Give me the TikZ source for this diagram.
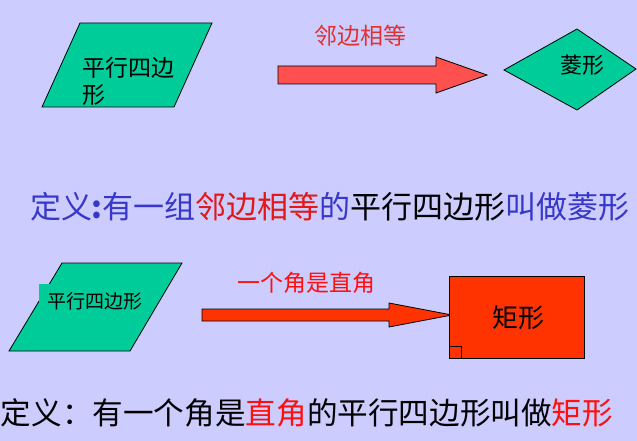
\documentclass[tikz,border=0pt]{standalone}
\usepackage{fontspec}
\setmainfont{Noto Sans CJK SC}
\definecolor{bg}{HTML}{CCCCFF}
\definecolor{shapegreen}{HTML}{00CC99}
\definecolor{arrowpink}{HTML}{FF5050}
\definecolor{arrowred}{HTML}{FF3300}
\definecolor{labelred}{HTML}{E03030}
\definecolor{defblue}{HTML}{3838C8}
\definecolor{defred}{HTML}{E01818}
\definecolor{brightred}{HTML}{FF1010}
\begin{document}
\begin{tikzpicture}[x=1pt,y=-1pt,
  outline/.style={draw=black,line width=0.8pt,line join=miter},
  txt/.style={inner sep=0pt,outer sep=0pt}]
\fill[bg] (0,0) rectangle (637,441);
\useasboundingbox (0,0) rectangle (637,441);
% ---- top row ----
\coordinate (p1a) at (80,23);
\coordinate (p1b) at (212,23);
\coordinate (p1c) at (174,107);
\coordinate (p1d) at (42,107);
\fill[shapegreen] (p1a)--(p1b)--(p1c)--(p1d)--cycle;
\draw[outline] (p1a)--(p1b)--(p1c)--(p1d)--cycle;
\node[txt,anchor=west,font=\fontsize{23}{23}\selectfont] (p1t1) at (82,68) {平行四边};
\node[txt,anchor=west,font=\fontsize{23}{23}\selectfont] (p1t2) at (82,95) {形};
% arrow 1
\fill[arrowpink] (278,66)--(436,66)--(436,57)--(487,75)--(436,93)--(436,84)--(278,84)--cycle;
\draw[outline] (278,66)--(436,66)--(436,57)--(487,75)--(436,93)--(436,84)--(278,84)--cycle;
\node[txt,text=labelred,font=\fontsize{23}{23}\selectfont] (lab1) at (360,36) {邻边相等};
% diamond
\coordinate (dl) at (504,70);
\coordinate (dt) at (577,29);
\coordinate (dr) at (636,69);
\coordinate (db) at (577,110);
\fill[shapegreen] (dl)--(dt)--(dr)--(db)--cycle;
\draw[outline] (dl)--(dt)--(dr)--(db)--cycle;
\node[txt,font=\fontsize{22}{22}\selectfont] (dtext) at (582,65) {菱形};
% definition 1
\node[txt,anchor=west,font=\fontsize{31}{31}\selectfont] (def1) at (30,207)
  {\textcolor{defblue}{定义\textbf{:}有一组}\textcolor{defred}{邻边相等}\textcolor{defblue}{的}\textcolor{black}{平行四边形}\textcolor{defblue}{叫做菱形}};
% ---- bottom row ----
\coordinate (p2a) at (62,263);
\coordinate (p2b) at (182,263);
\coordinate (p2c) at (130,351);
\coordinate (p2d) at (9,351);
\fill[shapegreen] (p2a)--(p2b)--(p2c)--(p2d)--cycle;
\draw[outline] (p2a)--(p2b)--(p2c)--(p2d)--cycle;
\fill[shapegreen] (39,284) rectangle (145,318);
\node[txt,font=\fontsize{19}{19}\selectfont] (p2t) at (95,301) {平行四边形};
% arrow 2
\fill[arrowred] (202,309)--(389,309)--(389,303)--(452,315)--(389,327)--(389,321)--(202,321)--cycle;
\draw[outline] (202,309)--(389,309)--(389,303)--(452,315)--(389,327)--(389,321)--(202,321)--cycle;
\node[txt,text=brightred,font=\fontsize{23}{23}\selectfont] (lab2) at (306,283) {一个角是直角};
% rectangle
\fill[arrowred] (449,276) rectangle (584,358);
\draw[outline] (449,276) rectangle (584,358);
\draw[outline] (449,346) -- (461,346) -- (461,358);
\node[txt,font=\fontsize{26}{26}\selectfont] (rtext) at (518,318) {矩形};
% definition 2
\node[txt,anchor=west,font=\fontsize{30.6}{30.6}\selectfont] (def2) at (1,413)
  {定义：有一个角是\textcolor{brightred}{直角}的平行四边形叫做\textcolor{brightred}{矩形}};
\end{tikzpicture}
\end{document}
